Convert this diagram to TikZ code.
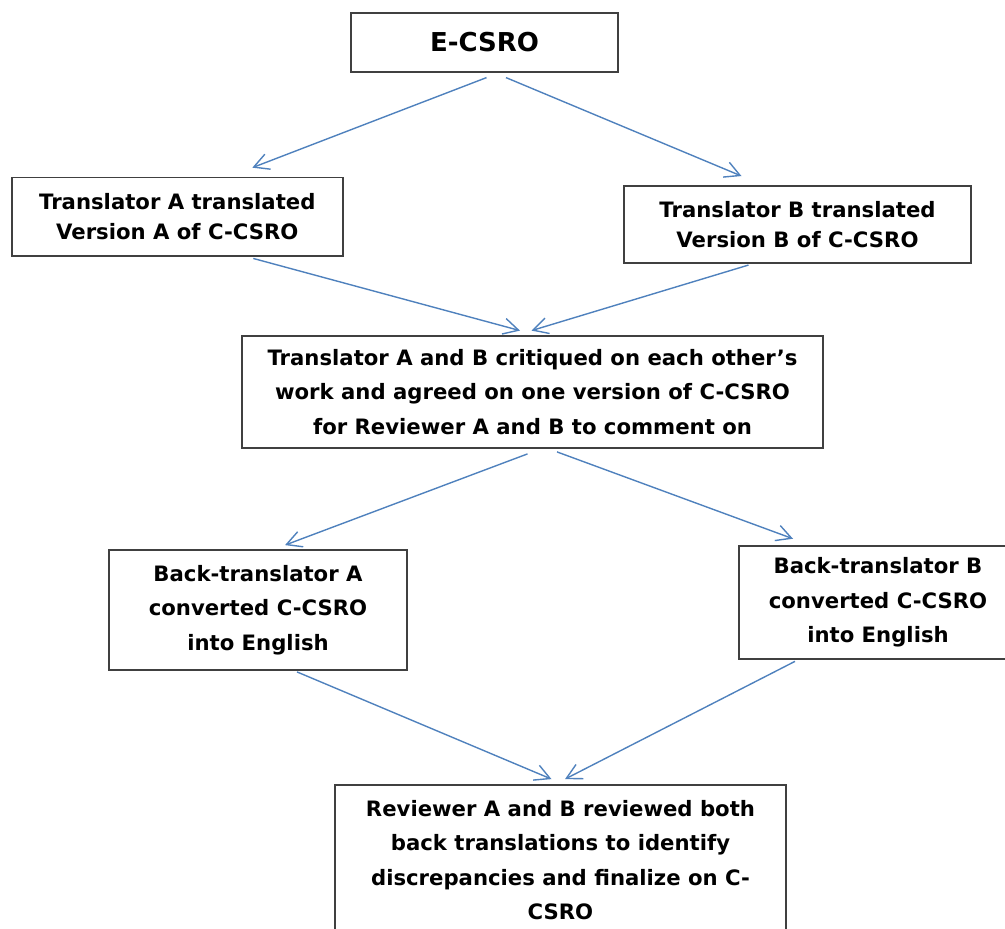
\documentclass[tikz,border=0pt]{standalone}
\usepackage{fontspec}
\setmainfont{DejaVu Sans}
\usepackage{xcolor}
\usepackage{tikz}
\usetikzlibrary{arrows.meta}

\definecolor{arblue}{HTML}{4F81BD}
\definecolor{boxgray}{HTML}{404040}

\begin{document}
\begin{tikzpicture}[
  x=1pt, y=-1pt,
  sbox/.style={draw=boxgray, line width=1.8pt, fill=white, align=center,
               inner sep=2pt, font=\fontsize{21.2}{34.5}\selectfont\bfseries},
  tbox/.style={sbox, font=\fontsize{21.2}{30}\selectfont\bfseries},
  hdr/.style={sbox, font=\fontsize{26}{30}\selectfont\bfseries},
  ar/.style={draw=arblue, line width=1.4pt,
             -{Straight Barb[length=15pt, width=16pt]}},
]
\clip (0,0) rectangle (1005,929);
\useasboundingbox (0,0) rectangle (1005,929);

\node[hdr, minimum width=267pt, minimum height=59pt] (ecsro) at (484.5, 42.2) {E-CSRO};

\node[tbox, minimum width=331pt, minimum height=78.5pt] (tra) at (177.3, 216.8)
     {Translator A translated\\Version A of C-CSRO};
\node[tbox, minimum width=347pt, minimum height=76.7pt] (trb) at (797.5, 224.3)
     {Translator B translated\\Version B of C-CSRO};

\node[sbox, minimum width=581pt, minimum height=112pt] (agree) at (532.5, 392)
     {Translator A and B critiqued on each other’s\\work and agreed on one version of C-CSRO\\for Reviewer A and B to comment on};

\node[sbox, minimum width=298pt, minimum height=120pt] (bta) at (258, 610)
     {Back-translator A\\converted C-CSRO\\into English};
\node[sbox, minimum width=278pt, minimum height=113.3pt] (btb) at (878, 602.3)
     {Back-translator B\\converted C-CSRO\\into English};

\node[sbox, minimum width=451pt, minimum height=150pt] (rev) at (560.5, 860)
     {Reviewer A and B reviewed both\\back translations to identify\\discrepancies and finalize on C-\\CSRO};

% arrows: start under one box, tip just above the next
\foreach \a/\ax/\ay/\b/\bx/\by in {ecsro/2/5/tra/75/-9, ecsro/21.5/5/trb/-56/-9,
    tra/76/1.5/agree/-12.5/-4.5, trb/-49/1.5/agree/-1/-4.5,
    agree/-5/5/bta/27/-4, agree/24.5/3/btb/-85/-6,
    bta/39/1/rev/-9/-5, btb/-83/1.5/rev/4.5/-5}
  \draw[ar] ([shift={(\ax,\ay)}]\a.south) -- ([shift={(\bx,\by)}]\b.north);
\end{tikzpicture}
\end{document}
